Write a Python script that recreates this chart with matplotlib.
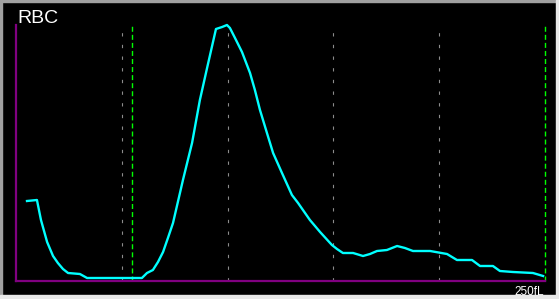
import matplotlib
matplotlib.use("Agg")
import matplotlib.pyplot as plt
from matplotlib.patches import Rectangle

# ---- data ----
volume_fl = [5.2, 9.9, 11.8, 14.7, 17.5, 19.8, 22.2, 24.6, 30.2, 33.6, 59.5, 61.9,
             64.7, 67.1, 69.5, 71.8, 74.2, 78.9, 83.2, 86.9, 90.3, 93.1, 94.5, 97.4,
             99.7, 101.1, 103.5, 106.8, 110.6, 112.9, 115.3, 118.6, 121.5, 125.7,
             130.4, 133.3, 138.9, 143.7, 149.3, 151.7, 154.5, 159.3, 164.0, 167.3,
             170.6, 175.3, 180.1, 183.8, 187.6, 195.7, 203.7, 208.4, 215.5, 219.3,
             225.4, 228.7, 234.9, 244.3, 249.1]
counts = [80, 81, 61, 39, 25, 18, 12, 8, 7, 3, 3, 8,
          11, 19, 29, 43, 58, 101, 138, 181, 213, 239, 252, 254,
          256, 253, 243, 229, 208, 191, 171, 148, 128, 108,
          86, 78, 61, 49, 36, 32, 28, 28, 25, 27,
          30, 31, 35, 33, 30, 30, 27, 21, 21, 15,
          15, 10, 9, 8, 5]
gray_marks = [50, 100, 150, 200]
green_marks = [55, 250]
x_max = 250
title = "RBC"
unit_label = "250fL"

plt.rcParams['lines.scale_dashes'] = False
W, H, DPI = 559, 299, 100
fig = plt.figure(figsize=(W / DPI, H / DPI), dpi=DPI, facecolor="black")

# sunken frame
def px_rect(x, y, w, h, color):
    fig.patches.append(Rectangle((x / W, 1 - (y + h) / H), w / W, h / H,
                                 transform=fig.transFigure, color=color, zorder=0))
px_rect(0, 0, W, 2, "#a0a0a0")
px_rect(0, 0, 2, H, "#a0a0a0")
px_rect(W - 3, 0, 3, H, "#e8e8e8")
px_rect(0, H - 4, W, 4, "#e8e8e8")

ax = fig.add_axes([16 / W, (H - 281) / H, 529 / W, 256 / H])
ax.set_facecolor("none")
ax.set_xlim(0, x_max)
ax.set_ylim(0, 256)
for s in ["top", "right"]:
    ax.spines[s].set_visible(False)
for s in ["left", "bottom"]:
    ax.spines[s].set_color("#800080")
    ax.spines[s].set_linewidth(1.6)
ax.set_xticks([])
ax.set_yticks([])

for g in gray_marks:
    ax.axvline(g, color="#8c8c8c", lw=0.8, dashes=(2.4, 6.0), zorder=1)
for g in green_marks:
    ax.axvline(g, color="#00ff00", lw=1.0, dashes=(3.6, 2.2), zorder=1,
               clip_on=False)

ax.plot(volume_fl, counts, color="#00ffff", lw=1.7, clip_on=False, zorder=3,
        solid_joinstyle="round")

fig.text(17 / W, 1 - 23 / H, title, color="white", fontsize=14,
         family="Liberation Sans", ha="left", va="baseline")
fig.text(544 / W, 1 - 295 / H, unit_label, color="white", fontsize=8.5,
         family="Liberation Sans", ha="right", va="baseline")

fig.savefig("out.png", dpi=DPI, facecolor="black")
